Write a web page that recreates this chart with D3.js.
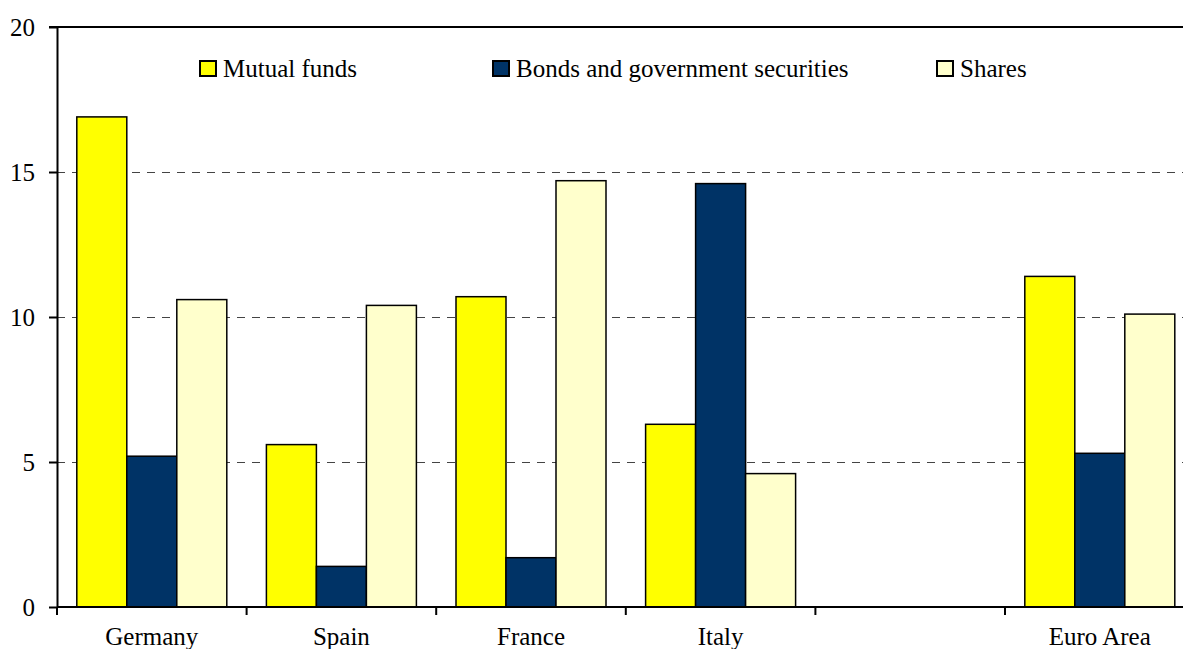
<!DOCTYPE html>
<html>
<head>
<meta charset="utf-8">
<script src="https://cdn.jsdelivr.net/npm/d3@7"></script>
</head>
<body style="margin:0">
<svg id="chart" width="1183" height="649" font-family="Liberation Serif" style="font-family: 'Liberation Serif'"></svg>
<script>
const categories = ["Germany", "Spain", "France", "Italy", "", "Euro Area"];
const seriesNames = ["Mutual funds", "Bonds and government securities", "Shares"];
const mutualFunds = [16.9, 5.6, 10.7, 6.3, null, 11.4];
const bonds       = [5.2, 1.4, 1.7, 14.6, null, 5.3];
const shares      = [10.6, 10.4, 14.7, 4.6, null, 10.1];
const yTicks = [0, 5, 10, 15, 20];
const colors = ["#FFFF00", "#003366", "#FFFFCC"];

const series = [mutualFunds, bonds, shares];
const FONT = "Liberation Serif";
const FONT_SIZE = "25px";

const svg = d3.select("#chart");
const plotLeft = 57, plotTop = 27, plotBottom = 607;
const bandW = 189.6;
const plotRight = plotLeft + bandW * categories.length;

const x = d3.scaleBand()
  .domain(d3.range(categories.length))
  .range([plotLeft, plotRight])
  .paddingInner(0).paddingOuter(0);

const inner = d3.scaleBand()
  .domain(d3.range(series.length))
  .range([0, x.bandwidth()])
  .paddingInner(0)
  .paddingOuter(0.396);

const y = d3.scaleLinear().domain([0, 20]).range([plotBottom, plotTop]);

function styleText(sel) {
  return sel
    .attr("font-family", FONT)
    .attr("font-size", 25)
    .style("font-family", FONT)
    .style("font-size", FONT_SIZE)
    .style("fill", "#000");
}

// dashed gridlines
svg.append("g").selectAll("line")
  .data(yTicks.filter(d => d > 0 && d < 20))
  .join("line")
  .attr("x1", plotLeft).attr("x2", 1183)
  .attr("y1", d => y(d) + 0.5).attr("y2", d => y(d) + 0.5)
  .attr("stroke", "#444")
  .attr("stroke-width", 1)
  .attr("stroke-dasharray", "8,7");

// top frame line
svg.append("line")
  .attr("x1", plotLeft - 8).attr("x2", 1183)
  .attr("y1", y(20)).attr("y2", y(20))
  .attr("stroke", "#000").attr("stroke-width", 2);

// bars
const groups = svg.append("g").selectAll("g")
  .data(categories.map((c, i) => ({ c, i })))
  .join("g")
  .attr("transform", d => `translate(${x(d.i)},0)`);

groups.selectAll("rect")
  .data(d => series.map((s, k) => ({ k, v: s[d.i] })).filter(e => e.v != null))
  .join("rect")
  .attr("x", e => inner(e.k))
  .attr("width", inner.bandwidth())
  .attr("y", e => y(e.v))
  .attr("height", e => y(0) - y(e.v))
  .attr("fill", e => colors[e.k])
  .attr("stroke", "#000")
  .attr("stroke-width", 1.5);

// y axis
const yAxis = svg.append("g")
  .attr("transform", `translate(${plotLeft},0)`)
  .call(d3.axisLeft(y).tickValues(yTicks).tickSize(8).tickPadding(14).tickSizeOuter(0));
yAxis.attr("font-family", FONT).attr("font-size", 25);
yAxis.select(".domain").attr("stroke", "#000").attr("stroke-width", 2);
yAxis.selectAll(".tick line").attr("stroke", "#000").attr("stroke-width", 2);
styleText(yAxis.selectAll(".tick text")).attr("dy", "0.34em");

// x axis baseline and category boundary ticks
svg.append("line")
  .attr("x1", plotLeft).attr("x2", 1183)
  .attr("y1", plotBottom).attr("y2", plotBottom)
  .attr("stroke", "#000").attr("stroke-width", 2);

svg.append("g").selectAll("line")
  .data(d3.range(categories.length))
  .join("line")
  .attr("x1", i => x(i)).attr("x2", i => x(i))
  .attr("y1", plotBottom).attr("y2", plotBottom + 8)
  .attr("stroke", "#000").attr("stroke-width", 2);

styleText(svg.append("g").selectAll("text")
  .data(categories.map((c, i) => ({ c, i })))
  .join("text")
  .attr("x", d => x(d.i) + x.bandwidth() / 2)
  .attr("y", 645)
  .attr("text-anchor", "middle")
  .text(d => d.c));

// legend
const legendX = [200, 493, 937];
const legend = svg.append("g").selectAll("g")
  .data(seriesNames.map((n, k) => ({ n, k })))
  .join("g")
  .attr("transform", d => `translate(${legendX[d.k]},61)`);
legend.append("rect")
  .attr("width", 16).attr("height", 15)
  .attr("fill", d => colors[d.k])
  .attr("stroke", "#000").attr("stroke-width", 2);
styleText(legend.append("text")
  .attr("x", 23).attr("y", 16)
  .text(d => d.n));
</script>
</body>
</html>
